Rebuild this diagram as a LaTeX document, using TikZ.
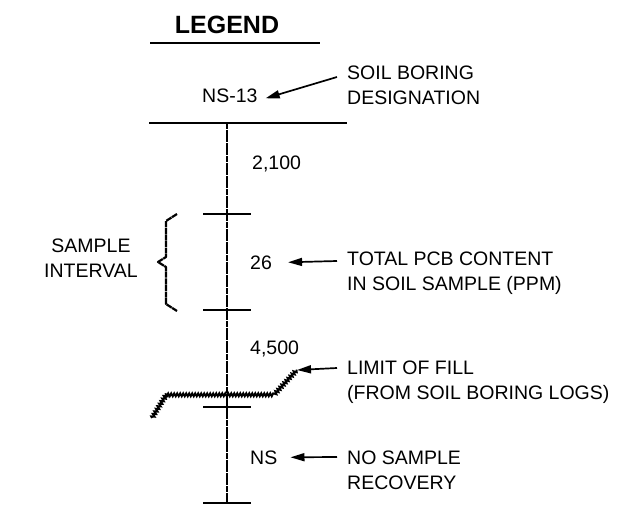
\documentclass[tikz,border=0pt]{standalone}
\usepackage{fontspec}
\setmainfont{Liberation Sans}
\usetikzlibrary{arrows.meta,decorations.pathmorphing}
\tikzset{
  lbl/.style={font=\fontsize{19.5}{25.5}\selectfont, inner sep=0pt, align=left, anchor=base west},
  val/.style={font=\fontsize{19.5}{25.5}\selectfont, inner sep=0pt, anchor=base west},
  ptr/.style={-{Triangle[length=14pt,width=8pt]}, line width=1.7pt},
  bore/.style={line width=2.2pt, dash pattern=on 6pt off 0.6pt},
  tick/.style={line width=1.3pt},
  filllimit/.style={decorate, decoration={snake, segment length=3pt, amplitude=1.5pt}, line width=1.9pt}
}

\begin{document}
\begin{tikzpicture}[x=1pt,y=-1pt]
\useasboundingbox (0,0) rectangle (619,507);

% title
\node[font=\bfseries\fontsize{25}{30}\selectfont, inner sep=0pt, anchor=base] (title) at (227,33) {LEGEND};
\draw[line width=1.8pt] (150,43) -- (320,43);

% boring
\coordinate (top) at (227,123);
\coordinate (bot) at (227,503);
\draw[line width=2.6pt] (149,123) -- (347,123);
\draw[bore] (top) -- (bot);
\foreach \y in {214,310,407,503}
  \draw[tick] (203,\y) -- (251,\y);

% sample interval brace
\draw[bore, line join=round] (177,214) -- (166,221) -- (166,257) -- (158,262)
  -- (166,267) -- (166,304) -- (177,311);
\node[font=\fontsize{19.5}{25.5}\selectfont, inner sep=0pt, align=center, anchor=base] (interval) at (91,277.5) {SAMPLE\\INTERVAL};

% limit of fill
\draw[filllimit] (152,418) -- (166,395) -- (274,395) -- (297,370) coordinate (fe);

% values
\node[val] (ns13) at (202,102) {NS-13};
\node[val] (v2100) at (252,169) {2,100};
\node[val] (v26) at (250,269) {26};
\node[val] (v4500) at (250,354) {4,500};
\node[val] (vns) at (250,464) {NS};

% notes (base = last line)
\node[lbl] (desig) at (347,104.5) {SOIL BORING\\DESIGNATION};
\node[lbl] (pcb) at (347,290.5) {TOTAL PCB CONTENT\\IN SOIL SAMPLE (PPM)};
\node[lbl] (fill) at (347,399.5) {LIMIT OF FILL\\(FROM SOIL BORING LOGS)};
\node[lbl] (norec) at (347,489.5) {NO SAMPLE\\RECOVERY};

\draw[ptr] ([shift={(-10pt,27.5pt)}]desig.base west) -- ([xshift=8pt,yshift=-3pt]ns13.east);
\draw[ptr] ([shift={(-10pt,29.5pt)}]pcb.base west) -- ([xshift=16pt]v26.east);
\draw[ptr] ([shift={(-10pt,31.5pt)}]fill.base west) -- (fe);
\draw[ptr] ([shift={(-10pt,32.5pt)}]norec.base west) -- ([xshift=13pt]vns.east);
\end{tikzpicture}
\end{document}
